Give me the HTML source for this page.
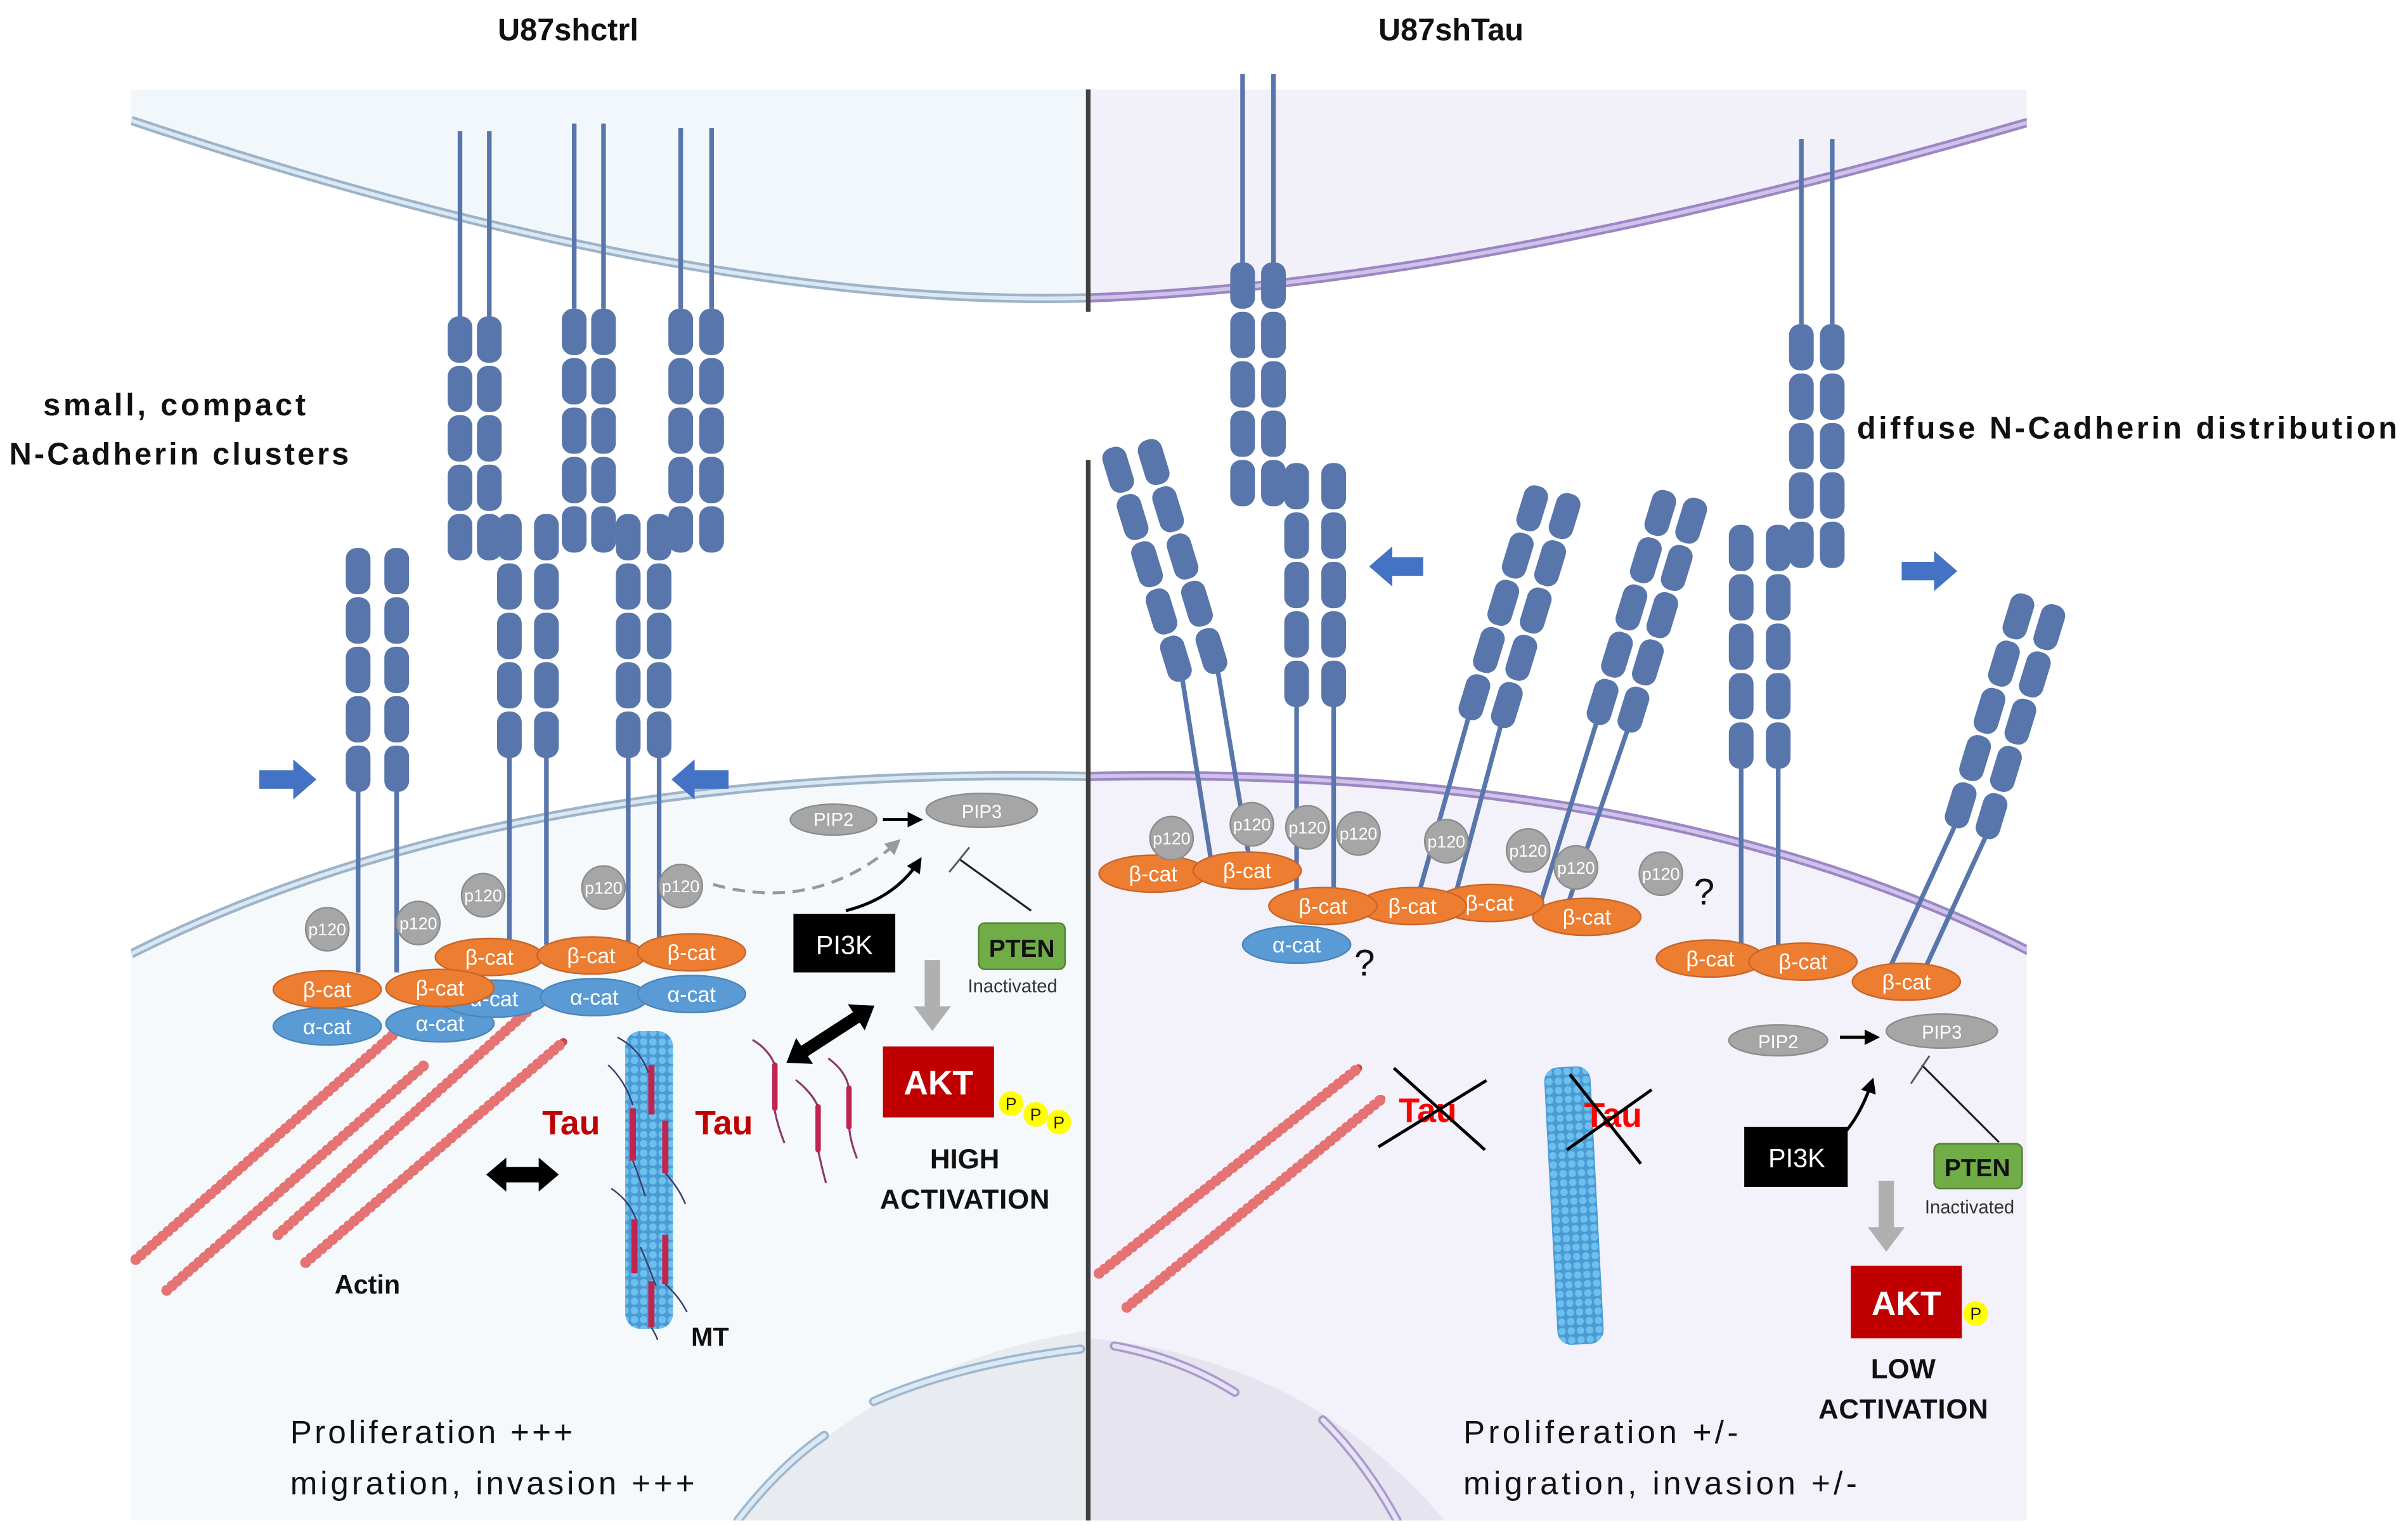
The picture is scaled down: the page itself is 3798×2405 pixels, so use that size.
<!DOCTYPE html>
<html><head><meta charset="utf-8"><style>
html,body{margin:0;padding:0;background:#fff;}
svg{display:block;}
text{font-family:"Liberation Sans",sans-serif;}
</style></head><body>
<svg width="3798" height="2405" viewBox="0 0 1560 988" preserveAspectRatio="none" xmlns="http://www.w3.org/2000/svg">
<defs>
<g id="dom" fill="#5876ab">
<rect x="-8" y="0" width="16" height="30" rx="7"/>
<rect x="-8" y="32" width="16" height="30" rx="7"/>
<rect x="-8" y="64" width="16" height="30" rx="7"/>
<rect x="-8" y="96" width="16" height="30" rx="7"/>
<rect x="-8" y="128" width="16" height="30" rx="7"/>
</g>
<pattern id="mtp" width="6" height="6" patternUnits="userSpaceOnUse">
<rect width="6" height="6" fill="#4a9ad6"/>
<circle cx="3" cy="3" r="2.4" fill="#6cc0ec"/>
</pattern>
<g id="p120"><circle r="14" fill="#a6a6a6" stroke="#8c8c8c" stroke-width="1"/><text y="4" text-anchor="middle" font-size="11" fill="#fff" font-family="Liberation Serif,serif">p120</text></g>
<g id="bcat"><ellipse rx="35" ry="12" fill="#ed7d31" stroke="#c8662a" stroke-width="1"/><text y="5" text-anchor="middle" font-size="14" fill="#fff" font-family="Liberation Serif,serif">β-cat</text></g>
<g id="acat"><ellipse rx="35" ry="12" fill="#5b9bd5" stroke="#4a85bb" stroke-width="1"/><text y="5" text-anchor="middle" font-size="14" fill="#fff" font-family="Liberation Serif,serif">α-cat</text></g>
<marker id="ah" viewBox="0 0 10 10" refX="8" refY="5" markerWidth="5" markerHeight="5" orient="auto"><path d="M0,0 L10,5 L0,10z" fill="#000"/></marker>
<marker id="ahg" viewBox="0 0 10 10" refX="8" refY="5" markerWidth="5" markerHeight="5" orient="auto"><path d="M0,0 L10,5 L0,10z" fill="#999"/></marker>
<clipPath id="cl"><rect x="85" y="58" width="620" height="927"/></clipPath>
<clipPath id="cr"><rect x="705" y="58" width="608" height="927"/></clipPath>
</defs>

<!-- LEFT PANEL -->
<g clip-path="url(#cl)">
<rect x="85" y="58" width="620" height="927" fill="#ffffff"/>
<path d="M85,58 L705,58 L705,193 Q450,200 85,78 Z" fill="#f2f7fb"/>
<path d="M85,618 Q330,495 705,503 L705,990 L85,990 Z" fill="#f5f9fc"/>
<path d="M475,990 Q560,885 705,862 L705,990 Z" fill="#e8ebef"/>
<path d="M478,985 Q505,950 534,930" fill="none" stroke="#9fb8cf" stroke-width="6" stroke-linecap="round"/>
<path d="M478,985 Q505,950 534,930" fill="none" stroke="#dbe9f5" stroke-width="3" stroke-linecap="round"/>
<path d="M566,908 Q620,884 700,874" fill="none" stroke="#9fb8cf" stroke-width="6" stroke-linecap="round"/>
<path d="M566,908 Q620,884 700,874" fill="none" stroke="#dbe9f5" stroke-width="3" stroke-linecap="round"/>
<path d="M85,78 Q450,200 705,193" fill="none" stroke="#9fb3c8" stroke-width="6"/>
<path d="M85,78 Q450,200 705,193" fill="none" stroke="#d8e8f5" stroke-width="2.5"/>
<path d="M85,618 Q330,495 705,503" fill="none" stroke="#9fb3c8" stroke-width="6"/>
<path d="M85,618 Q330,495 705,503" fill="none" stroke="#d8e8f5" stroke-width="2.5"/>
</g>

<!-- RIGHT PANEL -->
<g clip-path="url(#cr)">
<rect x="705" y="58" width="613" height="927" fill="#ffffff"/>
<path d="M705,58 L1318,58 L1318,78 Q950,185 705,193 Z" fill="#f2f0f8"/>
<path d="M705,503 Q1080,495 1318,618 L1318,990 L705,990 Z" fill="#f3f1f9"/>
<path d="M705,867 Q850,880 940,990 L705,990 Z" fill="#e6e4ee"/>
<path d="M722,872 Q765,880 800,902" fill="none" stroke="#a99ccb" stroke-width="6" stroke-linecap="round"/>
<path d="M722,872 Q765,880 800,902" fill="none" stroke="#e8e2f6" stroke-width="3" stroke-linecap="round"/>
<path d="M857,920 Q885,948 905,985" fill="none" stroke="#a99ccb" stroke-width="6" stroke-linecap="round"/>
<path d="M857,920 Q885,948 905,985" fill="none" stroke="#e8e2f6" stroke-width="3" stroke-linecap="round"/>
<path d="M705,193 Q950,185 1318,78" fill="none" stroke="#9c86c4" stroke-width="6"/>
<path d="M705,193 Q950,185 1318,78" fill="none" stroke="#cfc2ea" stroke-width="2.5"/>
<path d="M705,503 Q1080,495 1318,618" fill="none" stroke="#9c86c4" stroke-width="6"/>
<path d="M705,503 Q1080,495 1318,618" fill="none" stroke="#cfc2ea" stroke-width="2.5"/>
</g>

<!-- dividers -->
<line x1="705" y1="58" x2="705" y2="202" stroke="#404040" stroke-width="3"/>
<line x1="705" y1="298" x2="705" y2="985" stroke="#404040" stroke-width="3"/>

<!-- LEFT cadherins stalks -->
<g stroke="#5876ab" stroke-width="3">
<line x1="298" y1="85" x2="298" y2="205"/><line x1="317" y1="85" x2="317" y2="205"/>
<line x1="372" y1="80" x2="372" y2="200"/><line x1="391" y1="80" x2="391" y2="200"/>
<line x1="441" y1="83" x2="441" y2="200"/><line x1="461" y1="83" x2="461" y2="200"/>
<line x1="232" y1="510" x2="232" y2="630"/><line x1="257" y1="510" x2="257" y2="630"/>
<line x1="330" y1="488" x2="330" y2="612"/><line x1="354" y1="488" x2="354" y2="612"/>
<line x1="407" y1="488" x2="407" y2="612"/><line x1="427" y1="488" x2="427" y2="612"/>
</g>
<use href="#dom" x="298" y="205"/><use href="#dom" x="317" y="205"/>
<use href="#dom" x="372" y="200"/><use href="#dom" x="391" y="200"/>
<use href="#dom" x="441" y="200"/><use href="#dom" x="461" y="200"/>
<use href="#dom" x="232" y="355"/><use href="#dom" x="257" y="355"/>
<use href="#dom" x="330" y="333"/><use href="#dom" x="354" y="333"/>
<use href="#dom" x="407" y="333"/><use href="#dom" x="427" y="333"/>

<!-- blue arrows left -->
<path d="M168,499 L190,499 L190,492 L205,505 L190,518 L190,511 L168,511 Z" fill="#4472c4"/>
<path d="M472,499 L450,499 L450,492 L435,505 L450,518 L450,511 L472,511 Z" fill="#4472c4"/>

<!-- left actin -->
<g stroke-linecap="round" fill="none">
<g stroke="#c9484a" stroke-width="5">
<line x1="88" y1="816" x2="255" y2="670"/><line x1="108" y1="836" x2="275" y2="690"/>
<line x1="180" y1="800" x2="343" y2="654"/><line x1="198" y1="818" x2="365" y2="675"/>
</g>
<g stroke="#e57373" stroke-width="7" stroke-dasharray="0.1 4.5">
<line x1="88" y1="816" x2="255" y2="670"/><line x1="108" y1="836" x2="275" y2="690"/>
<line x1="180" y1="800" x2="343" y2="654"/><line x1="198" y1="818" x2="365" y2="675"/>
</g>
</g>

<!-- left catenins -->
<use href="#acat" x="212" y="665"/><use href="#acat" x="285" y="663"/>
<use href="#acat" x="320" y="647"/><use href="#acat" x="385" y="646"/><use href="#acat" x="448" y="644"/>
<use href="#bcat" x="212" y="641"/><use href="#bcat" x="317" y="620"/><use href="#bcat" x="285" y="640"/>
<use href="#bcat" x="383" y="619"/><use href="#bcat" x="448" y="617"/>
<use href="#p120" x="212" y="602"/><use href="#p120" x="271" y="598"/><use href="#p120" x="313" y="580"/>
<use href="#p120" x="391" y="575"/><use href="#p120" x="441" y="574"/>

<!-- MT left -->
<rect x="405" y="668" width="31" height="193" rx="10" fill="url(#mtp)"/>
<g stroke="#c0244f" stroke-width="4">
<line x1="422" y1="690" x2="422" y2="722"/><line x1="410" y1="718" x2="410" y2="752"/>
<line x1="431" y1="726" x2="431" y2="760"/><line x1="411" y1="790" x2="411" y2="825"/>
<line x1="431" y1="800" x2="431" y2="832"/><line x1="422" y1="830" x2="422" y2="860"/>
</g>
<g stroke="#3c3c6a" stroke-width="1" fill="none">
<path d="M400,672 Q415,680 420,695"/><path d="M394,690 Q405,700 410,716"/><path d="M410,752 Q415,765 418,775"/>
<path d="M431,760 Q440,770 444,780"/><path d="M396,770 Q408,778 412,790"/><path d="M431,832 Q440,840 445,850"/><path d="M415,808 Q420,820 425,833"/><path d="M422,860 Q425,865 426,868"/>
</g>
<!-- free tau squiggles -->
<g fill="none" stroke-linecap="round">
<g stroke="#8a3a6a" stroke-width="1.3">
<path d="M488,674 Q498,680 502,690 L502,720 Q504,730 508,740"/>
<path d="M516,700 Q526,708 530,717 L530,745 Q532,755 535,766"/>
<path d="M537,686 Q548,694 550,705 L550,730 Q551,740 555,750"/>
</g>
<g stroke="#c0244f" stroke-width="3.5">
<line x1="502" y1="690" x2="502" y2="718"/><line x1="530" y1="717" x2="530" y2="745"/><line x1="550" y1="705" x2="550" y2="730"/>
</g>
</g>

<text x="370" y="735" font-size="22" font-weight="bold" fill="#c00000" text-anchor="middle">Tau</text>
<text x="469" y="735" font-size="22" font-weight="bold" fill="#c00000" text-anchor="middle">Tau</text>
<text x="238" y="838" font-size="17" font-weight="bold" fill="#111" text-anchor="middle">Actin</text>
<text x="460" y="872" font-size="17" font-weight="bold" fill="#111" text-anchor="middle">MT</text>

<!-- double arrows -->
<path d="M315,761 L328,750 L328,756 L349,756 L349,750 L362,761 L349,772 L349,766 L328,766 L328,772 Z" fill="#000"/>
<g transform="translate(538,670) rotate(-33)"><path d="M-34,0 L-20,-10 L-20,-4 L20,-4 L20,-10 L34,0 L20,10 L20,4 L-20,4 L-20,10 Z" fill="#000"/></g>

<!-- signaling left -->
<path d="M462,573 Q530,592 582,545" fill="none" stroke="#999" stroke-width="2" stroke-dasharray="8,5" marker-end="url(#ahg)"/>
<ellipse cx="540" cy="531" rx="28" ry="10" fill="#a6a6a6" stroke="#8c8c8c"/>
<text x="540" y="535" font-size="12" fill="#fff" text-anchor="middle">PIP2</text>
<line x1="572" y1="531" x2="596" y2="531" stroke="#000" stroke-width="2" marker-end="url(#ah)"/>
<ellipse cx="636" cy="525" rx="36" ry="11" fill="#a6a6a6" stroke="#8c8c8c"/>
<text x="636" y="530" font-size="12" fill="#fff" text-anchor="middle">PIP3</text>
<path d="M548,590 Q580,582 596,557" fill="none" stroke="#000" stroke-width="2" marker-end="url(#ah)"/>
<line x1="668" y1="590" x2="622" y2="557" stroke="#222" stroke-width="1.3"/>
<line x1="615" y1="565" x2="628" y2="549" stroke="#555" stroke-width="1.2"/>
<rect x="514" y="592" width="66" height="38" fill="#000"/>
<text x="547" y="618" font-size="17" fill="#fff" text-anchor="middle">PI3K</text>
<rect x="634" y="598" width="56" height="30" rx="4" fill="#70ad47" stroke="#548235"/>
<text x="662" y="620" font-size="16" font-weight="bold" fill="#111" text-anchor="middle">PTEN</text>
<text x="656" y="643" font-size="12" fill="#333" text-anchor="middle">Inactivated</text>
<path d="M599,622 L609,622 L609,652 L616,652 L604,668 L592,652 L599,652 Z" fill="#b0b0b0"/>
<rect x="572" y="678" width="72" height="46" fill="#c00000"/>
<text x="608" y="709" font-size="22" font-weight="bold" fill="#fff" text-anchor="middle">AKT</text>
<g font-size="11" text-anchor="middle" fill="#222">
<circle cx="655" cy="715" r="8" fill="#ffff00"/><text x="655" y="719">P</text>
<circle cx="671" cy="722" r="8" fill="#ffff00"/><text x="671" y="726">P</text>
<circle cx="686" cy="727" r="8" fill="#ffff00"/><text x="686" y="731">P</text>
</g>
<text x="625" y="757" font-size="18" font-weight="bold" fill="#111" text-anchor="middle">HIGH</text>
<text x="625" y="783" font-size="18" font-weight="bold" fill="#111" text-anchor="middle" textLength="110">ACTIVATION</text>

<!-- RIGHT cadherins -->
<g stroke="#5876ab" stroke-width="3">
<line x1="805" y1="48" x2="805" y2="170"/><line x1="825" y1="48" x2="825" y2="170"/>
<line x1="840" y1="455" x2="840" y2="582"/><line x1="864" y1="455" x2="864" y2="582"/>
<line x1="1167" y1="90" x2="1167" y2="210"/><line x1="1187" y1="90" x2="1187" y2="210"/>
<line x1="1128" y1="495" x2="1128" y2="618"/><line x1="1152" y1="495" x2="1152" y2="618"/>
<line x1="766" y1="440" x2="785" y2="560"/><line x1="789" y1="435" x2="810" y2="560"/>
<line x1="951" y1="466" x2="918" y2="583"/><line x1="972" y1="471" x2="942" y2="583"/>
<line x1="1034" y1="469" x2="998" y2="585"/><line x1="1054" y1="474" x2="1016" y2="585"/>
<line x1="1266" y1="536" x2="1222" y2="632"/><line x1="1286" y1="543" x2="1245" y2="632"/>
</g>
<use href="#dom" x="805" y="170"/><use href="#dom" x="825" y="170"/>
<use href="#dom" x="840" y="300"/><use href="#dom" x="864" y="300"/>
<use href="#dom" x="1167" y="210"/><use href="#dom" x="1187" y="210"/>
<use href="#dom" x="1128" y="340"/><use href="#dom" x="1152" y="340"/>
<use href="#dom" transform="translate(720,290) rotate(-17)"/><use href="#dom" transform="translate(743,285) rotate(-17)"/>
<use href="#dom" transform="translate(997,315) rotate(17)"/><use href="#dom" transform="translate(1018,320) rotate(17)"/>
<use href="#dom" transform="translate(1080,318) rotate(17)"/><use href="#dom" transform="translate(1100,323) rotate(17)"/>
<use href="#dom" transform="translate(1312,385) rotate(17)"/><use href="#dom" transform="translate(1332,392) rotate(17)"/>

<path d="M922,361 L902,361 L902,354 L887,367 L902,380 L902,373 L922,373 Z" fill="#4472c4"/>
<path d="M1232,364 L1253,364 L1253,357 L1268,370 L1253,383 L1253,376 L1232,376 Z" fill="#4472c4"/>

<!-- right catenins -->
<use href="#acat" x="840" y="612"/>
<use href="#bcat" x="747" y="566"/><use href="#bcat" x="808" y="564"/>
<use href="#bcat" x="1028" y="594"/><use href="#bcat" x="965" y="585"/><use href="#bcat" x="915" y="587"/><use href="#bcat" x="857" y="587"/>
<use href="#bcat" x="1108" y="621"/><use href="#bcat" x="1168" y="623"/><use href="#bcat" x="1235" y="636"/>
<use href="#p120" x="759" y="543"/><use href="#p120" x="811" y="534"/><use href="#p120" x="847" y="536"/>
<use href="#p120" x="880" y="540"/><use href="#p120" x="937" y="545"/><use href="#p120" x="990" y="551"/>
<use href="#p120" x="1021" y="562"/><use href="#p120" x="1076" y="566"/>
<text x="1104" y="586" font-size="24" fill="#111" text-anchor="middle">?</text>
<text x="884" y="632" font-size="24" fill="#111" text-anchor="middle">?</text>

<!-- right actin -->
<g stroke-linecap="round" fill="none">
<g stroke="#c9484a" stroke-width="5">
<line x1="712" y1="825" x2="880" y2="692"/><line x1="730" y1="847" x2="895" y2="712"/>
</g>
<g stroke="#e57373" stroke-width="7" stroke-dasharray="0.1 4.5">
<line x1="712" y1="825" x2="880" y2="692"/><line x1="730" y1="847" x2="895" y2="712"/>
</g>
</g>
<!-- right MT -->
<g transform="translate(1000,692) rotate(-3)"><rect x="0" y="0" width="30" height="180" rx="9" fill="url(#mtp)"/></g>
<text x="925" y="727" font-size="22" font-weight="bold" fill="#ff0000" text-anchor="middle">Tau</text>
<text x="1045" y="730" font-size="22" font-weight="bold" fill="#ff0000" text-anchor="middle">Tau</text>
<g stroke="#000" stroke-width="2">
<line x1="903" y1="692" x2="962" y2="745"/><line x1="893" y1="743" x2="963" y2="700"/>
<line x1="1017" y1="696" x2="1063" y2="754"/><line x1="1015" y1="745" x2="1070" y2="706"/>
</g>

<!-- signaling right -->
<ellipse cx="1152" cy="674" rx="32" ry="10" fill="#a6a6a6" stroke="#8c8c8c"/>
<text x="1152" y="679" font-size="12" fill="#fff" text-anchor="middle">PIP2</text>
<line x1="1192" y1="672" x2="1216" y2="672" stroke="#000" stroke-width="2" marker-end="url(#ah)"/>
<ellipse cx="1258" cy="668" rx="36" ry="11" fill="#a6a6a6" stroke="#8c8c8c"/>
<text x="1258" y="673" font-size="12" fill="#fff" text-anchor="middle">PIP3</text>
<path d="M1167,750 Q1198,745 1213,700" fill="none" stroke="#000" stroke-width="2" marker-end="url(#ah)"/>
<line x1="1295" y1="740" x2="1245" y2="690" stroke="#222" stroke-width="1.3"/>
<line x1="1238" y1="702" x2="1250" y2="684" stroke="#555" stroke-width="1.2"/>
<rect x="1130" y="730" width="67" height="39" fill="#000"/>
<text x="1164" y="756" font-size="17" fill="#fff" text-anchor="middle">PI3K</text>
<rect x="1253" y="741" width="57" height="29" rx="4" fill="#70ad47" stroke="#548235"/>
<text x="1281" y="762" font-size="16" font-weight="bold" fill="#111" text-anchor="middle">PTEN</text>
<text x="1276" y="786" font-size="12" fill="#333" text-anchor="middle">Inactivated</text>
<path d="M1217,765 L1227,765 L1227,795 L1234,795 L1222,811 L1210,795 L1217,795 Z" fill="#b0b0b0"/>
<rect x="1199" y="820" width="72" height="47" fill="#c00000"/>
<text x="1235" y="852" font-size="22" font-weight="bold" fill="#fff" text-anchor="middle">AKT</text>
<circle cx="1280" cy="851" r="8" fill="#ffff00"/><text x="1280" y="855" font-size="11" fill="#222" text-anchor="middle">P</text>
<text x="1233" y="893" font-size="18" font-weight="bold" fill="#111" text-anchor="middle">LOW</text>
<text x="1233" y="919" font-size="18" font-weight="bold" fill="#111" text-anchor="middle" textLength="110">ACTIVATION</text>

<!-- text labels -->
<text x="368" y="26" font-size="20" font-weight="bold" fill="#111" text-anchor="middle">U87shctrl</text>
<text x="940" y="26" font-size="20" font-weight="bold" fill="#111" text-anchor="middle">U87shTau</text>
<text x="113" y="269" font-size="20" font-weight="bold" fill="#111" text-anchor="middle" textLength="170">small, compact</text>
<text x="116" y="301" font-size="20" font-weight="bold" fill="#111" text-anchor="middle" textLength="220">N-Cadherin clusters</text>
<text x="1203" y="284" font-size="20" font-weight="bold" fill="#111" textLength="350">diffuse N-Cadherin distribution</text>
<text x="188" y="935" font-size="21" fill="#111" textLength="183">Proliferation +++</text>
<text x="188" y="968" font-size="21" fill="#111" textLength="262">migration, invasion  +++</text>
<text x="948" y="935" font-size="21" fill="#111" textLength="178">Proliferation +/-</text>
<text x="948" y="968" font-size="21" fill="#111" textLength="255">migration, invasion  +/-</text>
</svg>
</body></html>
